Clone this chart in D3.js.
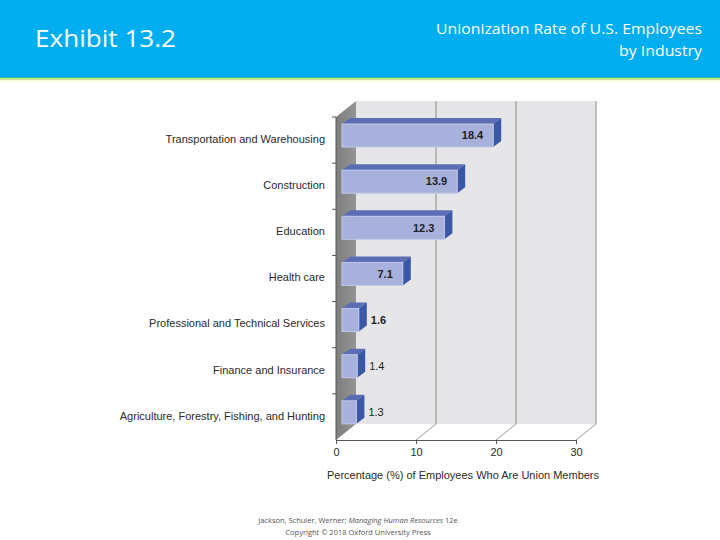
<!DOCTYPE html>
<html>
<head>
<meta charset="utf-8">
<script src="https://cdn.jsdelivr.net/npm/d3@7"></script>
<style>
  body { margin: 0; background: #fff; }
  text { font-family: "Liberation Sans", Arial, sans-serif; }
</style>
</head>
<body>
<div id="chart"></div>
<script>
// chart data
var categories = ["Transportation and Warehousing", "Construction", "Education", "Health care",
  "Professional and Technical Services", "Finance and Insurance", "Agriculture, Forestry, Fishing, and Hunting"];
var values = [18.4, 13.9, 12.3, 7.1, 1.6, 1.4, 1.3];
var xTicks = [0, 10, 20, 30];

var width = 720, height = 540;
var depthX = 20, depthY = -16;   // 3d offset of the back wall

var svg = d3.select("#chart").append("svg").attr("width", width).attr("height", height);

// header band
svg.append("rect").attr("x", 0).attr("y", 0).attr("width", width).attr("height", 77).attr("fill", "#00adef");
svg.append("rect").attr("x", 0).attr("y", 77).attr("width", width).attr("height", 1).attr("fill", "#3fb3a0");
svg.append("rect").attr("x", 0).attr("y", 78).attr("width", width).attr("height", 2).attr("fill", "#c6e68a");
svg.append("rect").attr("x", 0).attr("y", 80).attr("width", width).attr("height", 3).attr("fill", "#fbfde8");

svg.append("text").attr("x", 35).attr("y", 47).attr("fill", "#fff")
  .style("font-family", "'Open Sans', sans-serif").style("font-size", "23px")
  .attr("textLength", 141).attr("lengthAdjust", "spacingAndGlyphs")
  .text("Exhibit 13.2");
svg.append("text").attr("x", 702).attr("y", 34).attr("fill", "#fff").attr("text-anchor", "end")
  .style("font-family", "'Open Sans', sans-serif").style("font-size", "15px")
  .attr("textLength", 266).attr("lengthAdjust", "spacingAndGlyphs")
  .text("Unionization Rate of U.S. Employees");
svg.append("text").attr("x", 702).attr("y", 56).attr("fill", "#fff").attr("text-anchor", "end")
  .style("font-family", "'Open Sans', sans-serif").style("font-size", "15px")
  .attr("textLength", 83).attr("lengthAdjust", "spacingAndGlyphs")
  .text("by Industry");

// scales
var x = d3.scaleLinear().domain([0, 30]).range([336, 576]);
var y = d3.scaleBand().domain(categories).range([117, 440]);
var top0 = y.range()[0], bottom0 = y.range()[1];

var g = svg.append("g");

// back wall
g.append("rect")
  .attr("x", x(0) + depthX).attr("y", top0 + depthY)
  .attr("width", x(30) - x(0)).attr("height", bottom0 - top0)
  .attr("fill", "#e6e6e8");

// left wall
var lwGrad = svg.append("defs").append("linearGradient").attr("id", "lw")
  .attr("x1", 0).attr("x2", 1).attr("y1", 0).attr("y2", 0);
lwGrad.append("stop").attr("offset", "0%").attr("stop-color", "#7d7d7d");
lwGrad.append("stop").attr("offset", "100%").attr("stop-color", "#959595");
g.append("path")
  .attr("d", d3.line()([[x(0), top0], [x(0) + depthX, top0 + depthY], [x(0) + depthX, bottom0 + depthY], [x(0), bottom0]]) + "Z")
  .attr("fill", "url(#lw)");

// gridlines on back wall + floor diagonals
xTicks.forEach(function(t) {
  if (t > 0) {
    g.append("line")
      .attr("x1", x(t) + depthX).attr("x2", x(t) + depthX)
      .attr("y1", top0 + depthY).attr("y2", bottom0 + depthY)
      .attr("stroke", "#9a9a9a").attr("stroke-width", 1.2);
    g.append("line")
      .attr("x1", x(t)).attr("y1", bottom0)
      .attr("x2", x(t) + depthX).attr("y2", bottom0 + depthY)
      .attr("stroke", "#9a9a9a").attr("stroke-width", 1);
  }
});

// bars
var bars = g.selectAll(".bar").data(values).enter().append("g").attr("class", "bar");
var bx0 = function() { return x(0) + 6; };
var bx1 = function(d) { return x(d) + 10; };
var btop = function(d, i) { return y(categories[i]) + 7; };
var bh = 23, bdx = 8, bdy = -6;

bars.append("path")
  .attr("d", function(d, i) {
    var t = btop(d, i);
    return d3.line()([[bx0(), t], [bx0() + bdx, t + bdy], [bx1(d) + bdx, t + bdy], [bx1(d), t]]) + "Z";
  })
  .attr("fill", "#5b6db3");
bars.append("path")
  .attr("d", function(d, i) {
    var t = btop(d, i);
    return d3.line()([[bx1(d), t], [bx1(d) + bdx, t + bdy], [bx1(d) + bdx, t + bh + bdy], [bx1(d), t + bh]]) + "Z";
  })
  .attr("fill", "#3b58a6");
bars.append("rect")
  .attr("x", bx0).attr("y", btop)
  .attr("width", function(d) { return bx1(d) - bx0(); }).attr("height", bh)
  .attr("fill", "#a8b0dc").attr("stroke", "#c3c9ea").attr("stroke-width", 1);

bars.append("text")
  .attr("x", function(d) { return d > 5 ? bx1(d) - 10 : bx1(d) + bdx + 4; })
  .attr("y", function(d, i) { return btop(d, i) + bh / 2; })
  .attr("dy", "0.35em")
  .attr("text-anchor", function(d) { return d > 5 ? "end" : "start"; })
  .style("font-size", "11px")
  .style("font-weight", function(d) { return d > 5 || d === 1.6 ? "bold" : "normal"; })
  .attr("fill", "#1e1e1e")
  .text(function(d) { return d.toFixed(1); });

// left axis with ticks at band edges
g.append("line").attr("x1", x(0)).attr("x2", x(0)).attr("y1", top0).attr("y2", bottom0)
  .attr("stroke", "#555").attr("stroke-width", 1);
categories.forEach(function(c) {
  g.append("line").attr("x1", x(0) - 4).attr("x2", x(0)).attr("y1", y(c)).attr("y2", y(c))
    .attr("stroke", "#555");
});

g.selectAll(".cat").data(categories).enter().append("text")
  .attr("x", 325)
  .attr("y", function(d) { return y(d) + y.bandwidth() / 2 - 1; })
  .attr("dy", "0.35em")
  .attr("text-anchor", "end")
  .style("font-size", "11px")
  .attr("fill", "#2a2a2a")
  .text(function(d) { return d; });

// bottom axis
var xAxis = g.append("g").attr("transform", "translate(0," + bottom0 + ")")
  .call(d3.axisBottom(x).tickValues(xTicks).tickSize(4).tickPadding(4).tickFormat(d3.format("d")));
xAxis.select(".domain").attr("stroke", "#555");
xAxis.selectAll(".tick line").attr("stroke", "#555");
xAxis.selectAll("text").style("font-size", "11px").style("font-family", "'Liberation Sans', Arial, sans-serif").attr("fill", "#2a2a2a");

g.append("text").attr("x", 463).attr("y", 479).attr("text-anchor", "middle")
  .style("font-size", "11px").attr("fill", "#2a2a2a")
  .text("Percentage (%) of Employees Who Are Union Members");

// footer
var foot = svg.append("text").attr("x", 358).attr("y", 523).attr("text-anchor", "middle")
  .style("font-family", "'Open Sans', sans-serif").style("font-size", "7.5px").attr("fill", "#555");
foot.append("tspan").text("Jackson, Schuler, Werner; ");
foot.append("tspan").style("font-style", "italic").text("Managing Human Resources");
foot.append("tspan").text(" 12e");
svg.append("text").attr("x", 358).attr("y", 535).attr("text-anchor", "middle")
  .style("font-family", "'Open Sans', sans-serif").style("font-size", "7.5px").attr("fill", "#555")
  .text("Copyright © 2018 Oxford University Press");
</script>
</body>
</html>
